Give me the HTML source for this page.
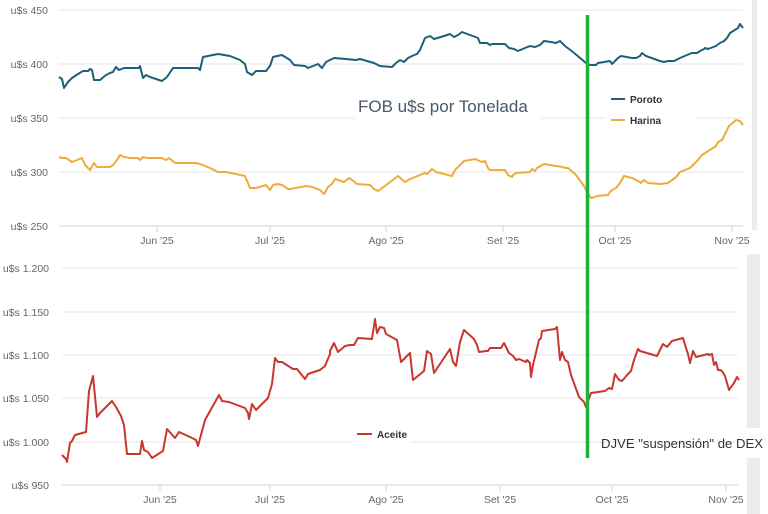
<!DOCTYPE html>
<html><head><meta charset="utf-8"><style>
html,body{margin:0;padding:0;background:#fff;}
svg{display:block;font-family:"Liberation Sans",sans-serif;}
.ax{font-size:10.5px;fill:#666;}
.g{stroke:#e6e6e6;stroke-width:1;}
</style></head><body>
<svg width="768" height="514" viewBox="0 0 768 514">
<rect x="0" y="0" width="768" height="514" fill="#fff"/>
<rect x="752" y="0" width="5" height="230" fill="#ececec"/>
<rect x="747" y="254" width="13" height="174" fill="#ececec"/>
<rect x="747" y="458" width="13" height="56" fill="#ececec"/>
<g class="g">
<line x1="59" y1="10" x2="743" y2="10"/>
<line x1="59" y1="64" x2="743" y2="64"/>
<line x1="59" y1="118" x2="743" y2="118"/>
<line x1="59" y1="172" x2="743" y2="172"/>
</g>
<line x1="59" y1="226" x2="743" y2="226" stroke="#ccd6eb"/>
<g stroke="#ccd6eb"><line x1="157" y1="226" x2="157" y2="232"/><line x1="270" y1="226" x2="270" y2="232"/><line x1="386" y1="226" x2="386" y2="232"/><line x1="503" y1="226" x2="503" y2="232"/><line x1="615" y1="226" x2="615" y2="232"/><line x1="732" y1="226" x2="732" y2="232"/></g>
<g class="ax" text-anchor="end">
<text x="48" y="14">u$s 450</text><text x="48" y="68">u$s 400</text><text x="48" y="122">u$s 350</text><text x="48" y="176">u$s 300</text><text x="48" y="230">u$s 250</text>
</g>
<g class="ax" text-anchor="middle">
<text x="157" y="244">Jun '25</text><text x="270" y="244">Jul '25</text><text x="386" y="244">Ago '25</text><text x="503" y="244">Set '25</text><text x="615" y="244">Oct '25</text><text x="732" y="244">Nov '25</text>
</g>
<rect x="355" y="112" width="186" height="10" fill="#fff"/>
<rect x="606" y="112" width="90" height="10" fill="#fff"/>
<polyline fill="none" stroke="#1f5f7a" stroke-width="2" stroke-linejoin="round" points="59,77 62,79 64,88 68,82 72,78 78,74 83,71 88,71 90,69 92,70 94,80 100,80 106,75 110,73 113,72 116,67 119,70 124,68 139,68 140,66 143,78 146,75 150,77 162,81 167,77 173,68 198,68 200,70 203,57 218,54 230,56 240,60 245,64 247,72 252,75 256,71 266,71 270,66 273,57 282,55 290,60 294,65 305,66 308,68 318,64 322,68 326,62 334,58 346,59 356,60 360,59 374,63 380,66 392,67 396,63 400,60 404,62 408,58 412,56 417,54 420,50 425,38 430,36 434,39 444,36 450,34 454,37 458,35 462,32 470,35 478,38 480,43 487,43 490,45 492,44 498,44 505,44 509,48 514,49 518,51 525,48 530,46 535,47 540,45 544,41 551,42 556,43 560,41 565,46 573,52 586,63 590,65 596,65 598,63 610,61 612,64 618,58 621,56 632,58 636,58 640,56 642,53 646,56 660,61 664,62 668,61 674,61 676,60 680,58 687,55 692,53 697,53 700,51 704,49 705,48 708,49 716,46 720,43 724,41 727,38 730,33 738,28 740,24 743,28"/>
<polyline fill="none" stroke="#f0ab3c" stroke-width="2" stroke-linejoin="round" points="59,157 62,158 66,158 72,162 82,158 85,165 90,170 94,163 97,167 110,167 113,165 117,160 120,155 124,157 130,158 138,158 140,160 143,157 147,158 162,158 166,160 169,158 175,163 196,163 200,164 210,168 218,172 226,172 245,176 250,188 256,188 266,185 270,190 273,185 278,184 282,185 288,189 290,189 296,188 306,186 312,187 320,190 324,194 328,187 332,184 335,179 344,182 349,178 352,180 357,184 370,185 374,189 378,191 385,186 390,182 398,176 405,182 410,179 425,173 427,174 432,169 436,172 452,176 455,170 460,165 464,161 475,159 482,162 485,161 488,168 490,170 501,170 505,170 508,175 512,177 513,175 516,173 530,172 532,169 535,171 537,168 544,164 556,166 563,167 565,168 568,168 576,175 584,186 587,192 591,198 595,197 597,196 608,195 610,192 612,190 616,188 620,183 624,176 632,178 640,182 641,183 644,180 648,183 660,184 668,183 675,178 677,176 680,172 690,168 698,160 702,155 716,146 718,142 722,140 725,134 728,128 729,126 736,120 740,121 743,125"/>
<text x="358" y="112" font-size="17" fill="#4a5866">FOB u$s por Tonelada</text>
<line x1="611" y1="99" x2="625" y2="99" stroke="#1f5f7a" stroke-width="2"/>
<text x="630" y="103" font-size="10" font-weight="bold" fill="#333">Poroto</text>
<line x1="611" y1="120" x2="625" y2="120" stroke="#f0ab3c" stroke-width="2"/>
<text x="630" y="124" font-size="10" font-weight="bold" fill="#333">Harina</text>
<g class="g">
<line x1="62" y1="268" x2="738" y2="268"/>
<line x1="62" y1="312" x2="738" y2="312"/>
<line x1="62" y1="355" x2="738" y2="355"/>
<line x1="62" y1="398" x2="738" y2="398"/>
<line x1="62" y1="442" x2="738" y2="442"/>
</g>
<rect x="352" y="437" width="60" height="10" fill="#fff"/>
<line x1="62" y1="485" x2="738" y2="485" stroke="#ccd6eb"/>
<g stroke="#ccd6eb"><line x1="160" y1="485" x2="160" y2="491"/><line x1="270" y1="485" x2="270" y2="491"/><line x1="386" y1="485" x2="386" y2="491"/><line x1="500" y1="485" x2="500" y2="491"/><line x1="612" y1="485" x2="612" y2="491"/><line x1="726" y1="485" x2="726" y2="491"/></g>
<g class="ax" text-anchor="end">
<text x="49" y="272">u$s 1.200</text><text x="49" y="316">u$s 1.150</text><text x="49" y="359">u$s 1.100</text><text x="49" y="402">u$s 1.050</text><text x="49" y="446">u$s 1.000</text><text x="49" y="489">u$s 950</text>
</g>
<g class="ax" text-anchor="middle">
<text x="160" y="503">Jun '25</text><text x="270" y="503">Jul '25</text><text x="386" y="503">Ago '25</text><text x="500" y="503">Set '25</text><text x="612" y="503">Oct '25</text><text x="726" y="503">Nov '25</text>
</g>
<polyline fill="none" stroke="#c8372d" stroke-width="2" stroke-linejoin="round" points="62,455 66,459 67,462 70,443 72,441 75,435 86,432 89,391 93,376 97,417 100,413 112,401 116,407 121,416 124,425 127,454 137,454 140,454 142,441 144,450 148,452 152,458 163,451 167,429 175,438 179,432 190,437 196,440 198,446 205,420 219,395 222,401 229,402 245,408 248,413 249,419 252,404 256,410 268,398 272,384 275,358 278,362 282,362 293,369 297,369 305,379 308,374 320,370 325,366 330,354 330,351 334,343 338,352 345,346 350,345 354,345 358,338 372,339 375,319 377,333 380,327 384,328 386,334 397,340 401,362 408,355 410,353 413,380 424,371 427,351 431,354 434,373 440,364 450,349 453,362 456,366 460,342 464,330 474,339 477,345 479,352 486,351 488,351 490,348 501,348 504,343 509,353 513,356 516,360 519,359 526,362 527,360 530,363 531,377 533,365 539,340 541,338 542,331 555,329 557,327 560,360 562,352 565,360 568,362 571,375 579,397 584,402 586,407 591,393 605,391 609,388 612,389 615,374 619,380 622,381 628,374 631,371 634,360 638,349 640,351 657,356 659,352 663,344 667,347 672,341 683,338 686,348 688,354 690,363 693,351 696,357 708,354 709,355 712,354 714,365 716,362 718,370 720,370 722,371 725,376 729,390 734,383 737,377 739,380"/>
<line x1="357" y1="434" x2="372" y2="434" stroke="#c8372d" stroke-width="2"/>
<text x="377" y="438" font-size="10" font-weight="bold" fill="#333">Aceite</text>
<line x1="587.5" y1="15" x2="587.5" y2="458" stroke="#1fb040" stroke-width="3.5"/>
<text x="601" y="448" font-size="13" fill="#333" textLength="162" lengthAdjust="spacingAndGlyphs">DJVE "suspensión" de DEX</text>
</svg>
</body></html>
